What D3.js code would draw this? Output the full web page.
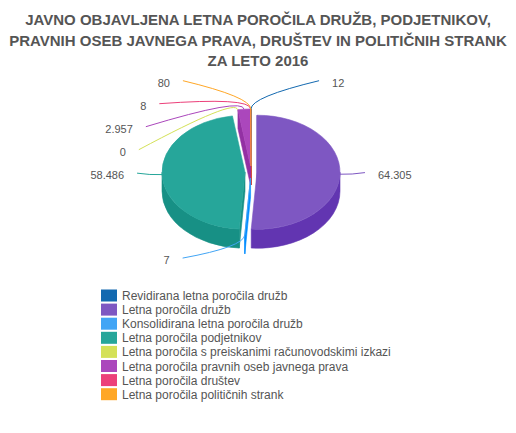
<!DOCTYPE html>
<html>
<head>
<meta charset="utf-8">
<script src="https://cdn.jsdelivr.net/npm/d3@7"></script>
<style>
  html, body { margin: 0; padding: 0; background: #fff; }
  svg { display: block; font-family: "Liberation Sans", Arial, sans-serif; }
</style>
</head>
<body>
<svg id="chart" width="516" height="433"></svg>
<script>
// chart data
var titleLines = [
	"JAVNO OBJAVLJENA LETNA POROČILA DRUŽB, PODJETNIKOV,",
	"PRAVNIH OSEB JAVNEGA PRAVA, DRUŠTEV IN POLITIČNIH STRANK",
	"ZA LETO 2016"
];
var categories = [
	"Revidirana letna poročila družb",
	"Letna poročila družb",
	"Konsolidirana letna poročila družb",
	"Letna poročila podjetnikov",
	"Letna poročila s preiskanimi računovodskimi izkazi",
	"Letna poročila pravnih oseb javnega prava",
	"Letna poročila društev",
	"Letna poročila političnih strank"
];
var values = [12, 64305, 7, 58486, 0, 2957, 8, 80];
var colors = ["#1369b0", "#7e57c2", "#42a5f5", "#26a69a", "#d4e157", "#ab47bc", "#ec407a", "#ffa726"];

// layout
var width = 516;
var pie3d = { cx: 251, cy: 172, rx: 83, ry: 57, depth: 19, pull: 6 };
var labelRing = { cy: 169.5, r: 88.8, a: 114, b: 110.7, spacing: 23, gap: 13 };

var fmt = d3.formatLocale({ decimal: ",", thousands: ".", grouping: [3], currency: ["", "€"] }).format(",d");

var svg = d3.select("#chart");

// title
svg.append("g")
	.attr("class", "title")
	.selectAll("text")
	.data(titleLines)
	.enter()
	.append("text")
	.attr("x", width / 2)
	.attr("y", function(d, i) { return 25 + i * 20.5; })
	.attr("text-anchor", "middle")
	.attr("fill", "#555")
	.style("font-size", "15px")
	.style("font-weight", "bold")
	.text(function(d) { return d; });

var arcs = d3.pie().sort(null).value(function(d) { return d; }).startAngle(0).endAngle(2 * Math.PI)(values);

arcs.forEach(function(a, i) {
	a.mid = (a.startAngle + a.endAngle) / 2;
	a.dx = pie3d.pull * Math.sin(a.mid);
	a.dy = -pie3d.pull * Math.cos(a.mid);
	a.color = colors[i];
	// side walls: a bit darker and more saturated than the top
	a.side = d3.hsl(colors[i]);
	a.side.l *= 0.82;
	a.side.s = Math.min(1, a.side.s * 1.15);
	a.index = i;
});

function pt(a, ang, z) {
	return [pie3d.cx + a.dx + pie3d.rx * Math.sin(ang), pie3d.cy + a.dy - pie3d.ry * Math.cos(ang) + z];
}
function centre(a, z) {
	return [pie3d.cx + a.dx, pie3d.cy + a.dy + z];
}

// collect the walls of the slices, then paint them back to front
var walls = [];
arcs.forEach(function(a) {
	if (a.value === 0) { return; }
	var s = a.startAngle, e = a.endAngle, d = pie3d.depth;

	// radial faces (start and end cut)
	[[s, s - Math.PI / 2], [e, e + Math.PI / 2]].forEach(function(f) {
		if (-Math.cos(f[1]) < -0.001) { return; }
		var c0 = centre(a, 0), p0 = pt(a, f[0], 0), p1 = pt(a, f[0], d), c1 = centre(a, d);
		walls.push({
			key: pie3d.cy + a.dy - pie3d.ry * Math.cos(f[0]) / 2,
			color: a.side,
			path: "M" + c0 + "L" + p0 + "L" + p1 + "L" + c1 + "Z"
		});
	});

	// outer wall, only the part facing the viewer
	var ws = Math.max(s, Math.PI / 2), we = Math.min(e, 3 * Math.PI / 2);
	if (we > ws) {
		var t0 = pt(a, ws, 0), t1 = pt(a, we, 0), b1 = pt(a, we, d), b0 = pt(a, ws, d);
		walls.push({
			key: pie3d.cy + a.dy + pie3d.ry,
			color: a.side,
			path: "M" + t0 + "A" + pie3d.rx + "," + pie3d.ry + " 0 0 1 " + t1 +
				"L" + b1 + "A" + pie3d.rx + "," + pie3d.ry + " 0 0 0 " + b0 + "Z"
		});
	}
});
walls.sort(function(a, b) { return a.key - b.key; });

var pieG = svg.append("g").attr("class", "pie");

pieG.selectAll(".wall")
	.data(walls)
	.enter()
	.append("path")
	.attr("class", "wall")
	.attr("d", function(d) { return d.path; })
	.attr("fill", function(d) { return d.color; })
	.attr("stroke", function(d) { return d.color; })
	.attr("stroke-width", 0.6);

pieG.selectAll(".top")
	.data(arcs.filter(function(a) { return a.value > 0; }))
	.enter()
	.append("path")
	.attr("class", "top")
	.attr("d", function(a) {
		var c = centre(a, 0), p0 = pt(a, a.startAngle, 0), p1 = pt(a, a.endAngle, 0);
		var large = (a.endAngle - a.startAngle) > Math.PI ? 1 : 0;
		return "M" + c + "L" + p0 + "A" + pie3d.rx + "," + pie3d.ry + " 0 " + large + " 1 " + p1 + "Z";
	})
	.attr("fill", function(a) { return a.color; })
	.attr("stroke", function(a) { return a.color; })
	.attr("stroke-width", 0.6);

// labels: ideal y on a ring round the pie, then pushed apart top-down per side
arcs.forEach(function(a) {
	a.right = a.mid < Math.PI;
	a.ly = labelRing.cy - labelRing.r * Math.cos(a.mid);
});
[true, false].forEach(function(right) {
	var side = arcs.filter(function(a) { return a.right === right; });
	side.sort(function(a, b) { return right ? a.mid - b.mid : b.mid - a.mid; });
	var prev = -Infinity;
	side.forEach(function(a) {
		a.ly = Math.max(a.ly, prev + labelRing.spacing);
		prev = a.ly;
		var k = (a.ly - labelRing.cy) / labelRing.b;
		var w = labelRing.a * Math.sqrt(Math.max(0, 1 - k * k));
		a.lx = right ? pie3d.cx + w : pie3d.cx - w;
	});
});

var labelG = svg.append("g").attr("class", "labels");

labelG.selectAll(".label-line")
	.data(arcs)
	.enter()
	.append("path")
	.attr("class", "label-line")
	.attr("fill", "none")
	.attr("stroke", function(a) { return a.color; })
	.attr("stroke-width", 1)
	.attr("d", function(a) {
		var p0 = pt(a, a.mid, 0);
		var c = [p0[0] + 12 * Math.sin(a.mid), p0[1] - 12 * Math.cos(a.mid)];
		return "M" + p0 + "Q" + c + " " + [a.lx, a.ly];
	});

labelG.selectAll(".label")
	.data(arcs)
	.enter()
	.append("text")
	.attr("class", "label")
	.attr("x", function(a) { return a.right ? a.lx + labelRing.gap : a.lx - labelRing.gap; })
	.attr("y", function(a) { return a.ly + 6; })
	.attr("text-anchor", function(a) { return a.right ? "start" : "end"; })
	.attr("fill", "#555")
	.style("font-size", "11px")
	.text(function(a) { return fmt(a.value); });

// legend
var legend = svg.append("g")
	.attr("class", "legend")
	.attr("transform", "translate(101,289.5)");

var rows = legend.selectAll(".row")
	.data(categories)
	.enter()
	.append("g")
	.attr("class", "row")
	.attr("transform", function(d, i) { return "translate(0," + (i * 14.1) + ")"; });

rows.append("rect")
	.attr("width", 16)
	.attr("height", 12)
	.attr("fill", function(d, i) { return colors[i]; });

rows.append("text")
	.attr("x", 21)
	.attr("y", 10.5)
	.attr("fill", "#555")
	.style("font-size", "12px")
	.text(function(d) { return d; });
</script>
</body>
</html>
